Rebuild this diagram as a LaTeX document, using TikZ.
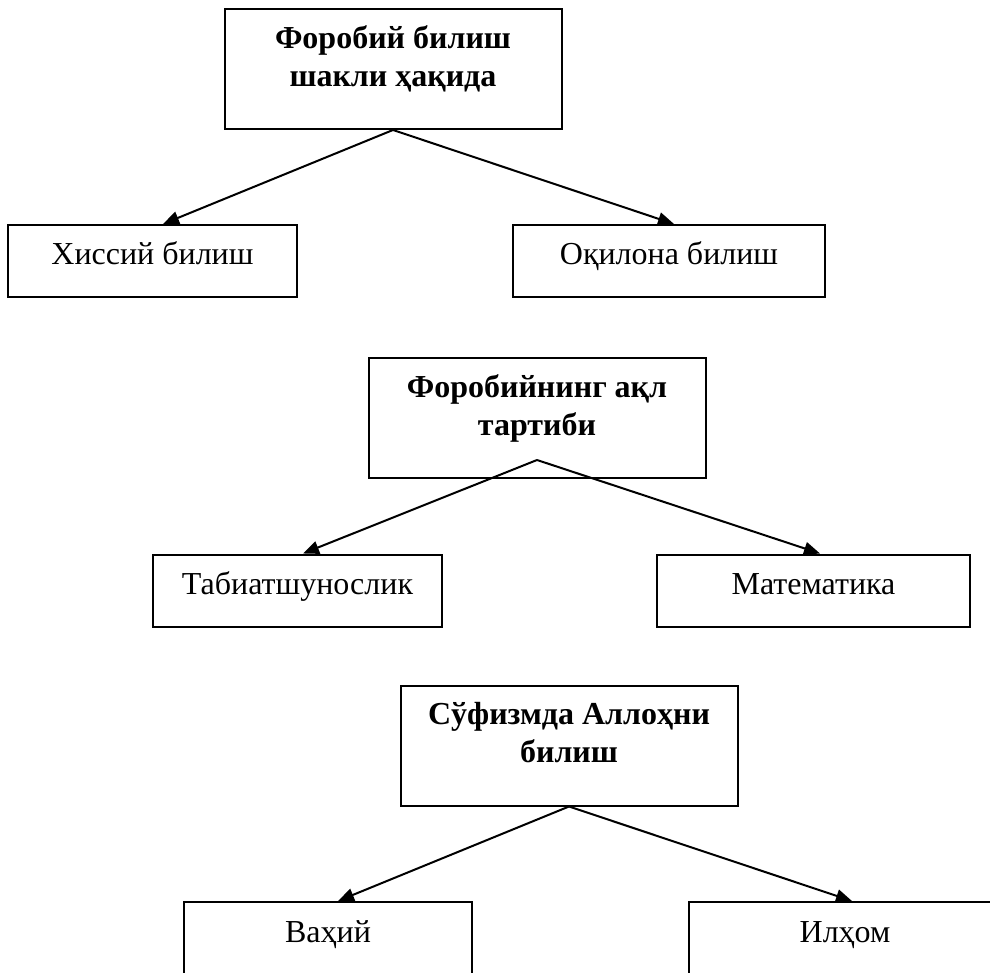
\documentclass[tikz,border=0pt]{standalone}
\usepackage{fontspec}
\setmainfont{Liberation Serif}
\usepackage{tikz}
\usetikzlibrary{arrows.meta}
\newcommand{\bilishmatn}[1]{\parbox[c][120pt][t]{330pt}{\centering\vspace*{17pt}#1}}
\tikzset{
  bilishbosh/.style={draw, line width=2pt, minimum width=337pt, minimum height=120pt,
    inner sep=0pt, font=\fontsize{32}{38}\selectfont\bfseries},
  bilishtur/.style={draw, line width=2pt, minimum height=72pt, inner sep=0pt,
    text height=20pt, text depth=12pt, font=\fontsize{32}{36}\selectfont},
  strelka/.style={line width=2pt, -{Triangle[length=16pt,width=13pt]}}
}

\begin{document}
\begin{tikzpicture}[x=1pt,y=-1pt]
  \clip (0,0) rectangle (990,973);

  \node [bilishbosh] (forobiy) at (393,69) {\bilishmatn{Форобий билиш\\шакли ҳақида}};
  \node [bilishtur, minimum width=289pt] (hissiy) at (152.5,261) {Хиссий билиш};
  \node [bilishtur, minimum width=312pt] (oqilona) at (669,261) {Оқилона билиш};
  \draw [strelka] (forobiy.south) -- ([xshift=10.5pt]hissiy.north);
  \draw [strelka] (forobiy.south) -- ([xshift=5pt]oqilona.north);

  \node [bilishbosh] (aql) at (537,418) {\bilishmatn{Форобийнинг ақл\\тартиби}};
  \coordinate (aqlpast) at ([yshift=19pt]aql.south);
  \node [bilishtur, minimum width=289pt] (tabiat) at (297.5,590.5) {Табиатшунослик};
  \node [bilishtur, minimum width=313pt] (matematika) at (813.5,590.5) {Математика};
  \draw [strelka] (aqlpast) -- ([xshift=5.5pt]tabiat.north);
  \draw [strelka] (aqlpast) -- ([xshift=6.5pt]matematika.north);

  \node [bilishbosh] (sufizm) at (569,745.5) {\bilishmatn{Сўфизмда Аллоҳни\\билиш}};
  \node [bilishtur, minimum width=288pt] (vahiy) at (328,938) {Ваҳий};
  \node [bilishtur, minimum width=312pt] (ilhom) at (845,938) {Илҳом};
  \draw [strelka] (sufizm.south) -- ([xshift=10pt]vahiy.north);
  \draw [strelka] (sufizm.south) -- ([xshift=7pt]ilhom.north);
\end{tikzpicture}
\end{document}
